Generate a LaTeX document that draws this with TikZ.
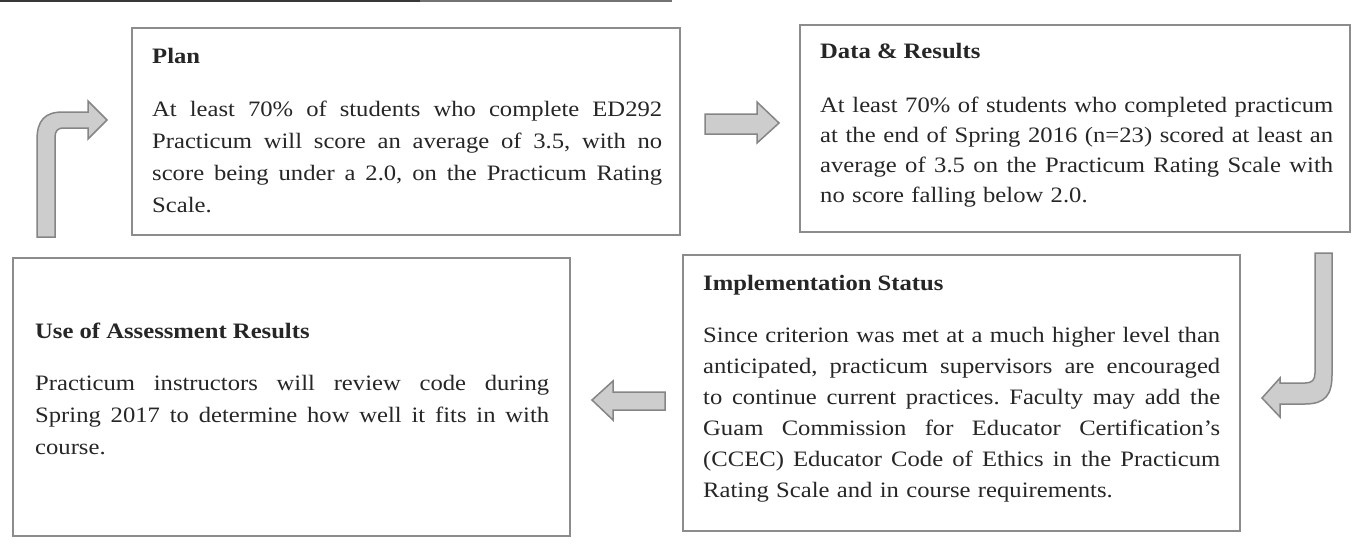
\documentclass[tikz,border=0pt]{standalone}
\usepackage{fontspec}
\setmainfont{Liberation Serif}[FakeStretch=1.12]
\definecolor{boxgray}{HTML}{8C8C8C}
\definecolor{inkgray}{HTML}{262626}
\definecolor{arrowfill}{HTML}{CDCDCD}
\definecolor{arrowedge}{HTML}{858585}
\frenchspacing
% a line spread out to the full width of its paragraph
\newdimen\jlwidth
\newcommand\jl[1]{\hbox to \jlwidth{\spaceskip=\fontdimen2\font plus 1fil\relax
  \xspaceskip=\spaceskip #1}\par}
\tikzset{
  panel/.style={draw=boxgray, line width=1.3pt, inner sep=0pt, outer sep=0pt, anchor=north west},
  headtext/.style={anchor=base west, inner sep=0pt, text=inkgray, font=\fontsize{22}{31}\selectfont\bfseries},
  bodytext/.style={anchor=base west, inner sep=0pt, text=inkgray, text width=#1,
    execute at begin node={\global\jlwidth=#1\relax}, font=\fontsize{22}{31}\selectfont},
  blockarrow/.style={fill=arrowfill, draw=arrowedge, line width=1.5pt, line join=miter}
}
\begin{document}
\begin{tikzpicture}[x=1pt, y=-1pt]
\useasboundingbox (0,0) rectangle (1366,550);
\fill[white] (0,0) rectangle (1366,550);

% rule across the top edge
\draw[line width=2.2pt, black!78] (0,1) -- (420,1);
\draw[line width=2pt, black!55] (420,1) -- (672,1);

% panels
\node[panel, minimum width=548pt, minimum height=207pt] (plan) at (132,28) {};
\node[panel, minimum width=550pt, minimum height=207pt] (data) at (800,25) {};
\node[panel, minimum width=557pt, minimum height=278pt] (use) at (13,258) {};
\node[panel, minimum width=557pt, minimum height=276pt] (impl) at (683,255) {};

% Plan
\node[headtext] (planh) at (152,63) {Plan};
\node[bodytext=510pt, font=\fontsize{22}{32}\selectfont] (planb) at (152,116) {%
\jl{At least 70\% of students who complete ED292}%
\jl{Practicum will score an average of 3.5, with no}%
\jl{score being under a 2.0, on the Practicum Rating}%
\noindent Scale.};

% Data & Results
\node[headtext] (datah) at (820,58) {Data \& Results};
\node[bodytext=513pt, font=\fontsize{22}{30}\selectfont] (datab) at (820,112) {%
\jl{At least 70\% of students who completed practicum}%
\jl{at the end of Spring 2016 (n=23) scored at least an}%
\jl{average of 3.5 on the Practicum Rating Scale with}%
\noindent no score falling below 2.0.};

% Implementation Status
\node[headtext] (implh) at (703,290) {Implementation Status};
\node[bodytext=517pt] (implb) at (703,342) {%
\jl{Since criterion was met at a much higher level than}%
\jl{anticipated, practicum supervisors are encouraged}%
\jl{to continue current practices. Faculty may add the}%
\jl{Guam Commission for Educator Certification's}%
\jl{(CCEC) Educator Code of Ethics in the Practicum}%
\noindent Rating Scale and in course requirements.};

% Use of Assessment Results
\node[headtext] (useh) at (35,338) {Use of Assessment Results};
\node[bodytext=514pt, font=\fontsize{22}{32}\selectfont] (useb) at (35,390) {%
\jl{Practicum instructors will review code during}%
\jl{Spring 2017 to determine how well it fits in with}%
\noindent course.};

% block arrows between the panels
\draw[blockarrow] (705,114) -- (757,114) -- (757,102) -- (779,123) -- (757,143)
  -- (757,134) -- (705,134) -- cycle;
\draw[blockarrow] (665,392) -- (613,392) -- (613,381) -- (592,400) -- (613,420)
  -- (613,410) -- (665,410) -- cycle;
\draw[blockarrow] (37,237) -- (37,140) .. controls (37,120) and (45,112) .. (63,112)
  -- (88,112) -- (88,101) -- (107,120) -- (88,139) -- (88,128) -- (63,128)
  .. controls (58,128) and (55,131) .. (55,137) -- (55,237) -- cycle;
\draw[blockarrow] (1315,253) -- (1332,253) -- (1332,375)
  .. controls (1332,395) and (1325,404) .. (1305,404) -- (1280,404) -- (1280,417)
  -- (1262,398) -- (1280,378) -- (1280,383) -- (1305,383)
  .. controls (1312,383) and (1315,380) .. (1315,373) -- cycle;
\end{tikzpicture}
\end{document}
